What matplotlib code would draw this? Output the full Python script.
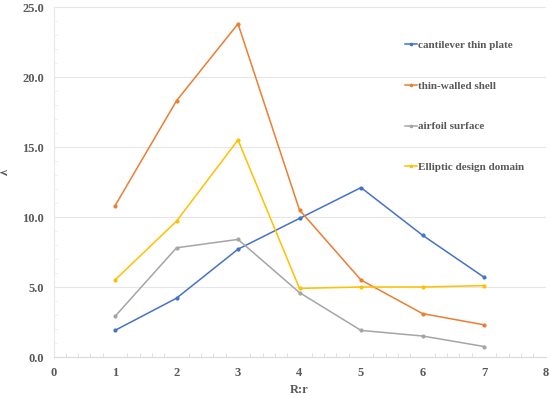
import matplotlib
matplotlib.use("Agg")
import matplotlib.pyplot as plt
from matplotlib.ticker import MultipleLocator

x = [1, 2, 3, 4, 5, 6, 7]
cantilever = [1.9, 4.2, 7.7, 9.9, 12.1, 8.7, 5.7]
shell = [10.8, 18.3, 23.8, 10.5, 5.5, 3.1, 2.3]
airfoil = [2.9, 7.8, 8.4, 4.6, 1.9, 1.5, 0.75]
elliptic = [5.5, 9.7, 15.5, 4.9, 5.0, 5.0, 5.1]

labels = ["cantilever thin plate", "thin-walled shell", "airfoil surface", "Elliptic design domain"]
colors = ["#4472C4", "#ED7D31", "#A5A5A5", "#FFC000"]
series = [cantilever, shell, airfoil, elliptic]

plt.rcParams['font.family'] = ['Liberation Serif', 'DejaVu Serif']
txt = "#595959"

fig = plt.figure(figsize=(5.5, 3.98), dpi=100)
ax = fig.add_axes([53.5/550, 1-357/398, 492/550, 350/398])

for s, c, l in zip(series, colors, labels):
    ax.plot(x, s, color=c, lw=1.1, marker='o', ms=2, label=l)

ax.set_xlim(0, 8)
ax.set_ylim(0, 25)
ax.set_xticks(range(0, 9))
ax.set_yticks([0, 5, 10, 15, 20, 25])
ax.set_yticklabels([f"{v:.1f}" for v in [0, 5, 10, 15, 20, 25]])
ax.xaxis.set_minor_locator(MultipleLocator(0.2))
ax.yaxis.set_minor_locator(MultipleLocator(1))
ax.grid(axis='y', which='major', color='#E6E6E6', lw=0.8)
ax.set_axisbelow(True)
for sp in ['top', 'right']:
    ax.spines[sp].set_visible(False)
ax.spines['left'].set_color('#E8E8E8')
ax.spines['bottom'].set_color('#D9D9D9')
ax.tick_params(which='major', length=0, labelsize=9, labelcolor=txt, pad=7)
ax.tick_params(axis='x', which='minor', direction='in', length=3, color='#D9D9D9')
ax.tick_params(axis='y', which='minor', direction='in', length=3, color='#EEEEEE')
for t in ax.get_xticklabels() + ax.get_yticklabels():
    t.set_fontweight('bold')

ax.set_xlabel("R:r", fontsize=9, fontweight='bold', color=txt, labelpad=4)
ax.set_ylabel("λ", fontsize=9, fontweight='bold', color=txt)
ax.yaxis.set_label_coords(-(53.5 - 11) / 492, 0.53)

leg = ax.legend(loc='upper left', bbox_to_anchor=(399/550, 1-35/398),
                bbox_transform=fig.transFigure, frameon=False,
                handlelength=1.1, handletextpad=0.1, labelspacing=2.77,
                borderpad=0, prop={'size': 8, 'weight': 'bold'}, markerscale=0.8)
for t in leg.get_texts():
    t.set_color(txt)

fig.savefig("out.png", dpi=100)
